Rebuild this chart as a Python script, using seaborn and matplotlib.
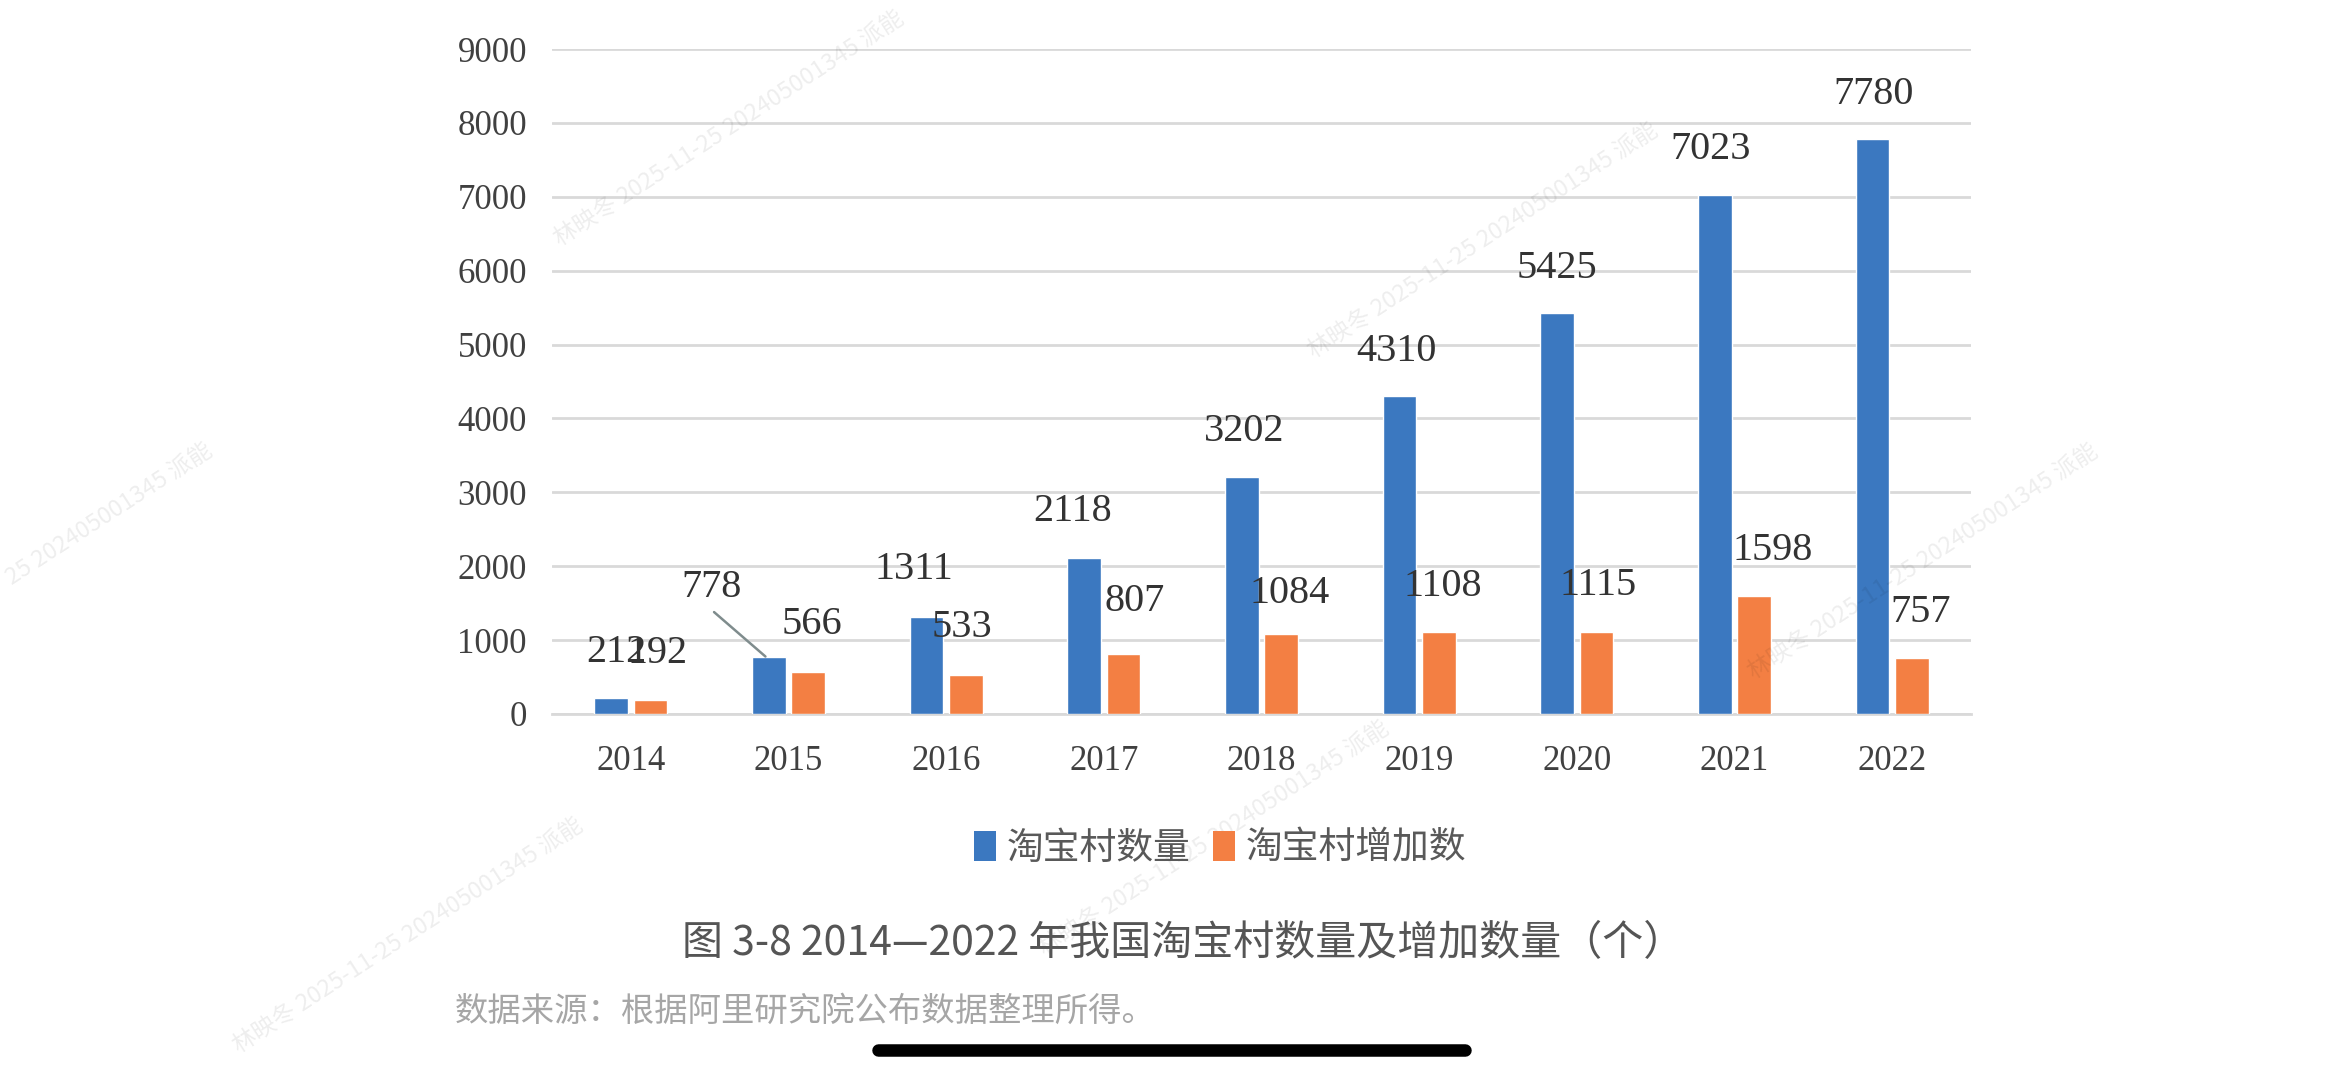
import pandas as pd
import seaborn as sns
import matplotlib.pyplot as plt
from matplotlib.patches import Patch
from matplotlib.lines import Line2D

years = ['2014', '2015', '2016', '2017', '2018', '2019', '2020', '2021', '2022']
village_count = [212, 778, 1311, 2118, 3202, 4310, 5425, 7023, 7780]
village_added = [192, 566, 533, 807, 1084, 1108, 1115, 1598, 757]
series_names = ['淘宝村数量', '淘宝村增加数']
colors = ['#3b78c0', '#f37f43']

title = '图 3-8 2014—2022 年我国淘宝村数量及增加数量（个）'
source = '数据来源：根据阿里研究院公布数据整理所得。'
watermark = '林映冬 2025-11-25 202405001345 派能'

df = pd.DataFrame({
    'year': years * 2,
    'value': village_count + village_added,
    'series': [series_names[0]] * len(years) + [series_names[1]] * len(years),
})

sns.set_style('white')
plt.rcParams['font.family'] = ['Noto Sans CJK SC', 'DejaVu Sans']
serif = 'Liberation Serif'

fig = plt.figure(figsize=(23.41, 10.8), dpi=100)
fig.patch.set_facecolor('white')

# faint screenshot watermarks
marks = [((375, 165), watermark), ((8, 392), '25 202405001345 派能'), ((1175, 455), watermark),
         ((160, 705), watermark), ((880, 240), watermark), ((700, 640), watermark)]
for (x0, y0), txt in marks:
    fig.text(x0 / 1568, 1 - y0 / 723, txt, rotation=33, rotation_mode='anchor',
             ha='left', va='baseline', fontsize=17, color='black', alpha=0.07, zorder=0)

ax = fig.add_axes([552 / 2341, 366 / 1080, 1419 / 2341, 665 / 1080])
ax.patch.set_alpha(0)
sns.barplot(data=df, x='year', y='value', hue='series', palette=colors,
            width=0.5, gap=0.15, saturation=1, legend=False, ax=ax, zorder=3)

ax.set_ylim(0, 9000)
ax.set_yticks(range(0, 9001, 1000))
ax.yaxis.grid(True, color='#d9d9d9', lw=2, zorder=0)
ax.set_axisbelow(True)
for s in ['top', 'right', 'left']:
    ax.spines[s].set_visible(False)
ax.spines['bottom'].set_color('#d9d9d9')
ax.spines['bottom'].set_linewidth(2)
ax.set_xlabel('')
ax.set_ylabel('')
ax.tick_params(axis='both', length=0, labelsize=25, labelcolor='#404040')
ax.tick_params(axis='x', pad=22)
ax.tick_params(axis='y', pad=18)
for lab in ax.get_xticklabels() + ax.get_yticklabels():
    lab.set_fontfamily(serif)

# label offsets (points) relative to bar top, tuned to match the hand-placed labels
blue_off = [(4, 33), (-41, 50), (-9, 34), (-8, 33), (2, 33), (-2, 32), (0, 32), (-3, 33), (1, 32)]
orange_off = [(5, 33), (3, 34), (-3, 34), (8, 38), (6, 29), (3, 33), (1, 33), (13, 33), (6, 33)]

for cont, vals, offs in [(ax.containers[0], village_count, blue_off),
                         (ax.containers[1], village_added, orange_off)]:
    for rect, v, (dx, dy) in zip(cont, vals, offs):
        cx = rect.get_x() + rect.get_width() / 2
        top = rect.get_height()
        ax.annotate(str(v), (cx, top), xytext=(dx, dy), textcoords='offset points',
                    ha='center', va='center', fontsize=29, color='#333333',
                    fontfamily=serif, zorder=5)

# leader line for the 2015 label
r = ax.containers[0][1]
ax.annotate('', (r.get_x() + r.get_width() * 0.4, r.get_height()), xytext=(-37, 32),
            textcoords='offset points',
            arrowprops=dict(arrowstyle='-', color='#7f8c8d', lw=1.8, shrinkA=0, shrinkB=0))

handles = [Patch(facecolor=c, edgecolor='none') for c in colors]
fig.legend(handles, series_names, loc='center', bbox_to_anchor=(1220 / 2341, 1 - 848 / 1080),
           ncol=2, frameon=False, fontsize=26.5, labelcolor='#595959',
           handlelength=0.6, handleheight=0.9, handletextpad=0.3, columnspacing=0.6)

fig.text(1183 / 2341, 1 - 944 / 1080, title, ha='center', va='center',
         fontsize=29.5, color='#555555')
fig.text(455 / 2341, 1 - 1011 / 1080, source, ha='left', va='center',
         fontsize=24, color='#a6a6a6')

# phone home indicator
fig.add_artist(Line2D([878 / 2341, 1465 / 2341], [30 / 1080, 30 / 1080], lw=9,
                      color='black', solid_capstyle='round', transform=fig.transFigure))

fig.savefig('out.png', dpi=100, facecolor='white')
